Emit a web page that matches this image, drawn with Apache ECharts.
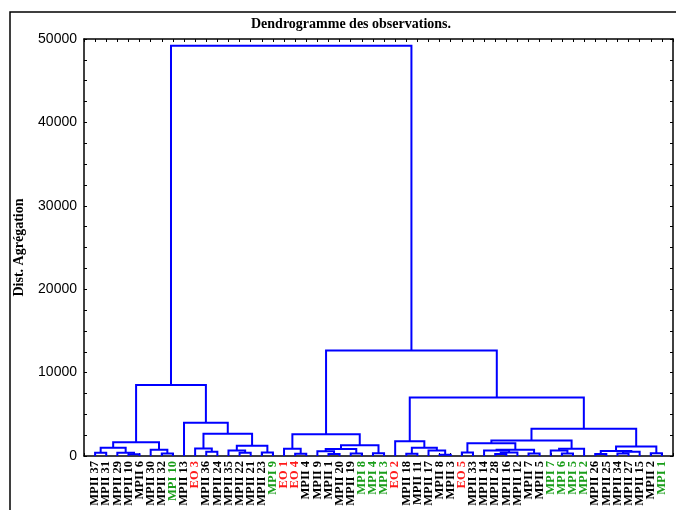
<!DOCTYPE html>
<html>
<head>
<meta charset="utf-8">
<title>Dendrogramme des observations</title>
<script src="https://cdn.jsdelivr.net/npm/echarts@6/dist/echarts.min.js"></script>
<style>
html, body { margin: 0; padding: 0; background: #fff; }
#main { width: 676px; height: 510px; }
</style>
</head>
<body>
<div id="main"></div>
<script>
// feuilles, dans l'ordre du dendrogramme
var leaves = ['MPII 37', 'MPII 31', 'MPII 29', 'MPII 10', 'MPII 6', 'MPII 30', 'MPII 32', 'MPI 10',
	'MPII 13', 'EO 3', 'MPII 36', 'MPII 24', 'MPII 35', 'MPII 22', 'MPII 21', 'MPII 23', 'MPI 9',
	'EO 1', 'EO 4', 'MPII 4', 'MPII 9', 'MPII 1', 'MPII 20', 'MPII 19', 'MPI 8', 'MPI 4', 'MPI 3',
	'EO 2', 'MPII 18', 'MPII 11', 'MPII 17', 'MPII 8', 'MPII 3', 'EO 5', 'MPII 33', 'MPII 14',
	'MPII 28', 'MPII 16', 'MPII 12', 'MPII 7', 'MPII 5', 'MPI 7', 'MPI 6', 'MPI 5', 'MPI 2',
	'MPII 26', 'MPII 25', 'MPII 34', 'MPII 27', 'MPII 15', 'MPII 2', 'MPI 1'];

// fusions : [gauche, droite] ; un indice >= 52 renvoie a une fusion precedente (52 = 1re fusion)
var mergePairs = [
	[3, 4], [0, 1], [2, 52], [53, 54], [6, 7], [5, 56], [55, 57],
	[10, 11], [9, 59], [13, 14], [12, 61], [15, 16], [62, 63], [60, 64], [8, 65], [58, 66],
	[18, 19], [17, 68], [21, 22], [20, 70], [23, 24], [71, 72], [25, 26], [73, 74], [69, 75],
	[28, 29], [31, 32], [30, 78], [77, 79], [27, 80],
	[33, 34], [36, 37], [83, 38], [35, 84], [39, 40], [85, 86], [82, 87],
	[42, 43], [41, 89], [90, 44], [88, 91],
	[45, 46], [47, 48], [94, 49], [93, 95], [50, 51], [96, 97], [92, 98],
	[81, 99], [76, 100], [67, 101]
];
// distance d'agregation de chaque fusion
var mergeHeights = [
	200, 400, 400, 980, 300, 740, 1650,
	500, 900, 400, 660, 420, 1220, 2660, 3990, 8500,
	260, 860, 250, 580, 300, 850, 340, 1300, 2600,
	260, 150, 660, 980, 1780,
	420, 250, 420, 660, 300, 740, 1540,
	300, 660, 860, 1860,
	250, 300, 500, 600, 340, 1140, 3260,
	7020, 12660, 49200
];

var n = leaves.length;
var pos = [], hgt = [];
for (var i = 0; i < n; i++) { pos.push(i); hgt.push(0); }
var links = [];
mergePairs.forEach(function (p, k) {
	var a = p[0], b = p[1], h = mergeHeights[k];
	links.push({ coords: [[pos[a], hgt[a]], [pos[a], h], [pos[b], h], [pos[b], hgt[b]]] });
	pos.push((pos[a] + pos[b]) / 2);
	hgt.push(h);
});

function leafLabel(v) {
	if (v < 0 || v >= n || v !== Math.round(v)) return '';
	var name = leaves[v];
	if (name.indexOf('MPII') === 0) return '{k|' + name + '}';
	if (name.indexOf('MPI') === 0) return '{g|' + name + '}';
	return '{r|' + name + '}';
}

var labelFont = { fontFamily: 'Liberation Serif', fontWeight: 'bold', fontSize: 12.5 };
var axisBlack = { onZero: false, lineStyle: { color: '#000', width: 1.5 } };
var tickIn = { inside: true, length: 3, lineStyle: { color: '#000', width: 1 } };

var chart = echarts.init(document.getElementById('main'));
var option = {
	animation: false,
	backgroundColor: '#fff',
	title: {
		text: 'Dendrogramme des observations.',
		left: 246,
		top: 12,
		textStyle: { fontFamily: 'Liberation Serif', fontWeight: 'bold', fontSize: 14, color: '#000' }
	},
	graphic: [{
		type: 'rect',
		shape: { x: 10, y: 12, width: 720, height: 560 },
		style: { fill: 'none', stroke: '#000', lineWidth: 1.5 },
		silent: true
	}],
	grid: { left: 84, right: 3, top: 39, bottom: 54 },
	xAxis: [{
		type: 'value', min: -1, max: n, interval: 1, position: 'bottom',
		splitLine: { show: false },
		axisLine: axisBlack,
		axisTick: tickIn,
		axisLabel: {
			rotate: 90, margin: 5, formatter: leafLabel,
			rich: {
				k: Object.assign({ color: '#000' }, labelFont),
				g: Object.assign({ color: '#1a9e1a' }, labelFont),
				r: Object.assign({ color: '#ff1a1a' }, labelFont)
			}
		}
	}, {
		type: 'value', min: -1, max: n, interval: 1, position: 'top',
		splitLine: { show: false },
		axisLine: axisBlack,
		axisTick: tickIn,
		axisLabel: { show: false }
	}],
	yAxis: [{
		type: 'value', min: 0, max: 50000, interval: 2500, position: 'left',
		name: 'Dist. Agrégation',
		nameLocation: 'middle',
		nameRotate: 90,
		nameGap: 58,
		nameTextStyle: { fontFamily: 'Liberation Serif', fontWeight: 'bold', fontSize: 14, color: '#000' },
		splitLine: { show: false },
		axisLine: { show: true, onZero: false, lineStyle: { color: '#000', width: 1.5 } },
		axisTick: tickIn,
		axisLabel: {
			margin: 7,
			color: '#000',
			fontFamily: 'Liberation Sans',
			fontSize: 14,
			formatter: function (v) { return v % 10000 === 0 ? String(v) : ''; }
		}
	}, {
		type: 'value', min: 0, max: 50000, interval: 2500, position: 'right',
		splitLine: { show: false },
		axisLine: { show: true, onZero: false, lineStyle: { color: '#000', width: 1.5 } },
		axisTick: tickIn,
		axisLabel: { show: false }
	}],
	series: [{
		type: 'lines',
		coordinateSystem: 'cartesian2d',
		polyline: true,
		silent: true,
		lineStyle: { color: '#0000ff', width: 2, opacity: 1 },
		data: links
	}]
};
chart.setOption(option);
</script>
</body>
</html>
